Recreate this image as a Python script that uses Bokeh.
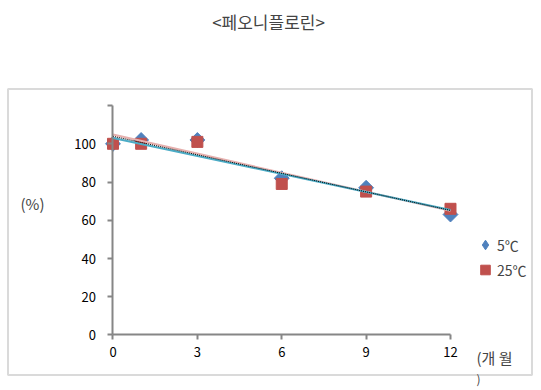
import numpy as np
from bokeh.plotting import figure
from bokeh.models import (Label, BoxAnnotation, Legend, LegendItem, FixedTicker,
                          Range1d, ColumnDataSource)
from bokeh.embed import file_html
from bokeh.resources import INLINE

title_text = "<페오니플로린>"
months = [0, 1, 3, 6, 9, 12]
series_5c = [100, 102, 102, 82, 77, 63]
series_25c = [100, 100, 101, 79, 75, 66]
x_ticks = [0, 3, 6, 9, 12]
y_ticks = [0, 20, 40, 60, 80, 100, 120]
label_5c = "5℃"
label_25c = "25℃"
y_label = "(%)"
x_label_1 = "(개 월"
x_label_2 = ")"

FONT = "Noto Sans CJK KR"
GRAY = "#868686"
BLUE = "#4F81BD"
RED = "#C0504D"

W, H = 541, 390

p = figure(width=W, height=H, output_backend="svg", toolbar_location=None,
           x_range=Range1d(-4.0, 15.236), y_range=Range1d(-29.03, 174.95),
           min_border_left=0, min_border_right=0,
           min_border_top=0, min_border_bottom=0)
p.outline_line_color = None
p.xgrid.visible = False
p.ygrid.visible = False
p.background_fill_color = "white"
p.border_fill_color = "white"

for ax in (p.xaxis[0], p.yaxis[0]):
    ax.fixed_location = 0
    ax.axis_line_color = GRAY
    ax.axis_line_width = 2
    ax.major_tick_line_color = GRAY
    ax.major_tick_line_width = 2
    ax.major_tick_in = 0
    ax.major_tick_out = 5
    ax.minor_tick_line_color = None
    ax.major_label_text_font = FONT
    ax.major_label_text_font_size = "13px"
    ax.major_label_text_color = "black"

p.xaxis.bounds = (0, 12)
p.yaxis.bounds = (0, 120)
p.xaxis.ticker = FixedTicker(ticks=x_ticks)
p.yaxis.ticker = FixedTicker(ticks=y_ticks)
p.yaxis.major_label_overrides = {120: ""}
p.xaxis.major_label_standoff = 7
p.yaxis.major_label_standoff = 12

src = ColumnDataSource(dict(x=months, a=series_5c, b=series_25c))
# diamond marker for the legend; hidden under the wider diamonds drawn next
r5_legend = p.scatter("x", "a", source=src, marker="diamond", size=10,
                      fill_color=BLUE, line_color=BLUE)
r5 = p.scatter("x", "a", source=src, marker="square", angle=np.pi / 4, size=10.5,
               fill_color=BLUE, line_color=BLUE)
r25 = p.scatter("x", "b", source=src, marker="square", size=11,
                fill_color=RED, line_color=RED)

# trend lines (least squares fits of each series)
xs = np.array(months, dtype=float)
fit5 = np.polyfit(xs, np.array(series_5c, dtype=float), 1)
fit25 = np.polyfit(xs, np.array(series_25c, dtype=float), 1)
xl = np.array([months[0], months[-1]], dtype=float)
p.line(xl, np.polyval(fit5, xl), line_color="#E6B0AE", line_width=2)
p.line(xl, np.polyval(fit25, xl), line_color="#4BACC6", line_width=2)
p.line(xl, (np.polyval(fit5, xl) + np.polyval(fit25, xl)) / 2,
       line_color="black", line_width=1, line_dash="1 1")

legend = Legend(items=[LegendItem(label=label_5c, renderers=[r5_legend]),
                       LegendItem(label=label_25c, renderers=[r25])],
                location=(473, 108), border_line_color=None,
                background_fill_alpha=0, padding=0, spacing=0, margin=0,
                glyph_width=24, glyph_height=25, label_standoff=0,
                label_text_font=FONT, label_text_font_size="14px",
                label_height=25)
p.add_layout(legend, "center")

# outer border box
p.add_layout(BoxAnnotation(left=7.5, right=531.5, bottom=15.5, top=301.5,
                           left_units="screen", right_units="screen",
                           bottom_units="screen", top_units="screen",
                           fill_alpha=0, line_color=GRAY, line_width=2))

p.add_layout(Label(x=268, y=369, x_units="screen", y_units="screen",
                   text=title_text, text_font=FONT, text_font_size="17px",
                   text_align="center", text_baseline="middle"))
p.add_layout(Label(x=32, y=187, x_units="screen", y_units="screen",
                   text=y_label, text_font=FONT, text_font_size="15px",
                   text_align="center", text_baseline="middle"))
p.add_layout(Label(x=476, y=33, x_units="screen", y_units="screen",
                   text=x_label_1, text_font=FONT, text_font_size="15px",
                   text_align="left", text_baseline="middle"))
p.add_layout(Label(x=476, y=12, x_units="screen", y_units="screen",
                   text=x_label_2, text_font=FONT, text_font_size="12px",
                   text_align="left", text_baseline="middle"))

open("out.html", "w").write(file_html(p, INLINE))
